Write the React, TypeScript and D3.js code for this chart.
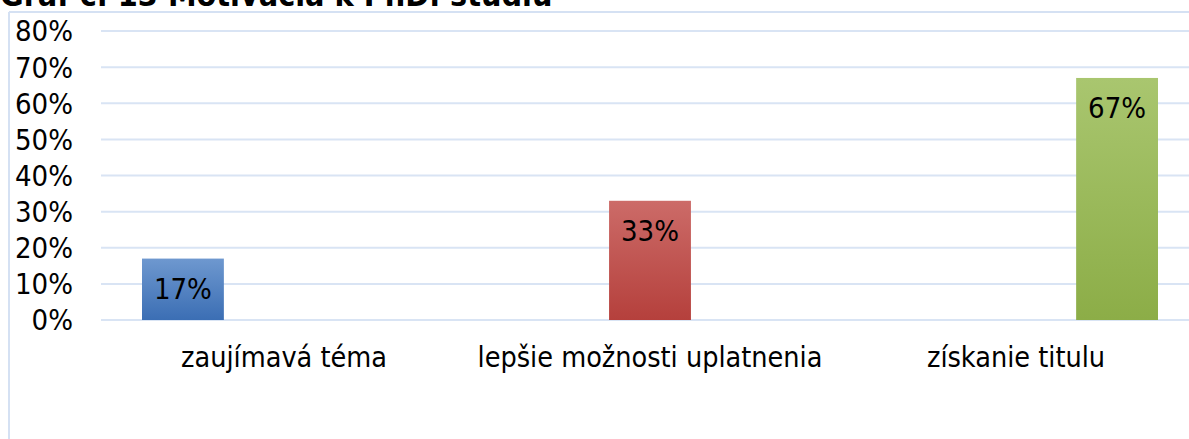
import { useRef, useEffect } from 'react';
import * as d3 from 'd3';

const categories = ['zaujímavá téma', 'lepšie možnosti uplatnenia', 'získanie titulu'];
const seriesNames = ['s1', 's2', 's3'];
const seriesValues = [
  [17, 0, 0],
  [0, 33, 0],
  [0, 0, 67],
];
const seriesColours = [
  ['#6e98cf', '#3b6eb4'],
  ['#cc6b68', '#b5403c'],
  ['#a9c66f', '#8cad47'],
];
const yTicks = [0, 10, 20, 30, 40, 50, 60, 70, 80];
const title = 'Graf č. 13 Motivácia k PhD. štúdiu';

const W = 1189;
const H = 439;
const FONT = '"DejaVu Sans Condensed", "DejaVu Sans", sans-serif';

export default function App() {
  const svgRef = useRef<SVGSVGElement>(null);

  useEffect(() => {
    if (!svgRef.current) return;
    const svg = d3.select(svgRef.current);
    svg.selectAll('*').remove();

    const defs = svg.append('defs');
    seriesColours.forEach((c, i) => {
      const g = defs.append('linearGradient')
        .attr('id', `grad${i}`)
        .attr('x1', 0).attr('y1', 0).attr('x2', 0).attr('y2', 1);
      g.append('stop').attr('offset', '0%').attr('stop-color', c[0]);
      g.append('stop').attr('offset', '100%').attr('stop-color', c[1]);
    });

    const left = 101;
    const right = 1199;
    const top = 31;
    const bottom = 320;

    // frame
    svg.append('line')
      .attr('x1', 9).attr('x2', 9).attr('y1', 12).attr('y2', H)
      .attr('stroke', '#d5e1f3').attr('stroke-width', 2);
    svg.append('line')
      .attr('x1', 9).attr('x2', W).attr('y1', 12).attr('y2', 12)
      .attr('stroke', '#d5e1f3').attr('stroke-width', 2);

    // title, cut at the top edge as in the source
    svg.append('text')
      .attr('x', 0).attr('y', 6)
      .attr('font-family', FONT)
      .attr('font-weight', 'bold')
      .attr('font-size', 32)
      .attr('fill', '#000')
      .text(title);

    const y = d3.scaleLinear().domain([0, 80]).range([bottom, top]);
    const x0 = d3.scaleBand<string>().domain(categories).range([left, right]);
    const groupPad = 41;
    const x1 = d3.scaleBand<string>()
      .domain(seriesNames)
      .range([groupPad, x0.bandwidth() - groupPad])
      .paddingInner(0.19)
      .paddingOuter(0);

    // grid
    svg.append('g')
      .selectAll('line')
      .data(yTicks)
      .join('line')
      .attr('x1', left).attr('x2', W)
      .attr('y1', d => y(d)).attr('y2', d => y(d))
      .attr('stroke', '#d9e4f4').attr('stroke-width', 2);

    // y labels
    svg.append('g')
      .selectAll('text')
      .data(yTicks)
      .join('text')
      .attr('x', 73)
      .attr('y', d => y(d))
      .attr('dy', '0.36em')
      .attr('text-anchor', 'end')
      .attr('font-family', FONT)
      .attr('font-size', 29)
      .attr('fill', '#000')
      .text(d => `${d}%`);

    // bars
    seriesValues.forEach((vals, si) => {
      const bars = vals
        .map((v, ci) => ({ v, c: categories[ci] }))
        .filter(d => d.v > 0);
      const g = svg.append('g');
      g.selectAll('rect')
        .data(bars)
        .join('rect')
        .attr('x', d => (x0(d.c) ?? 0) + (x1(seriesNames[si]) ?? 0))
        .attr('y', d => y(d.v))
        .attr('width', x1.bandwidth())
        .attr('height', d => bottom - y(d.v))
        .attr('fill', `url(#grad${si})`);
      g.selectAll('text')
        .data(bars)
        .join('text')
        .attr('x', d => (x0(d.c) ?? 0) + (x1(seriesNames[si]) ?? 0) + x1.bandwidth() / 2)
        .attr('y', d => y(d.v) + 40)
        .attr('text-anchor', 'middle')
        .attr('font-family', FONT)
        .attr('font-size', 29)
        .attr('fill', '#000')
        .text(d => `${d.v}%`);
    });

    // category labels
    svg.append('g')
      .selectAll('text')
      .data(categories)
      .join('text')
      .attr('x', d => (x0(d) ?? 0) + x0.bandwidth() / 2)
      .attr('y', 367)
      .attr('text-anchor', 'middle')
      .attr('font-family', FONT)
      .attr('font-size', 28.5)
      .attr('fill', '#000')
      .text(d => d);
  }, []);

  return (
    <svg
      ref={svgRef}
      width={W}
      height={H}
      style={{ position: 'absolute', left: 0, top: 0, background: '#fff' }}
    />
  );
}
